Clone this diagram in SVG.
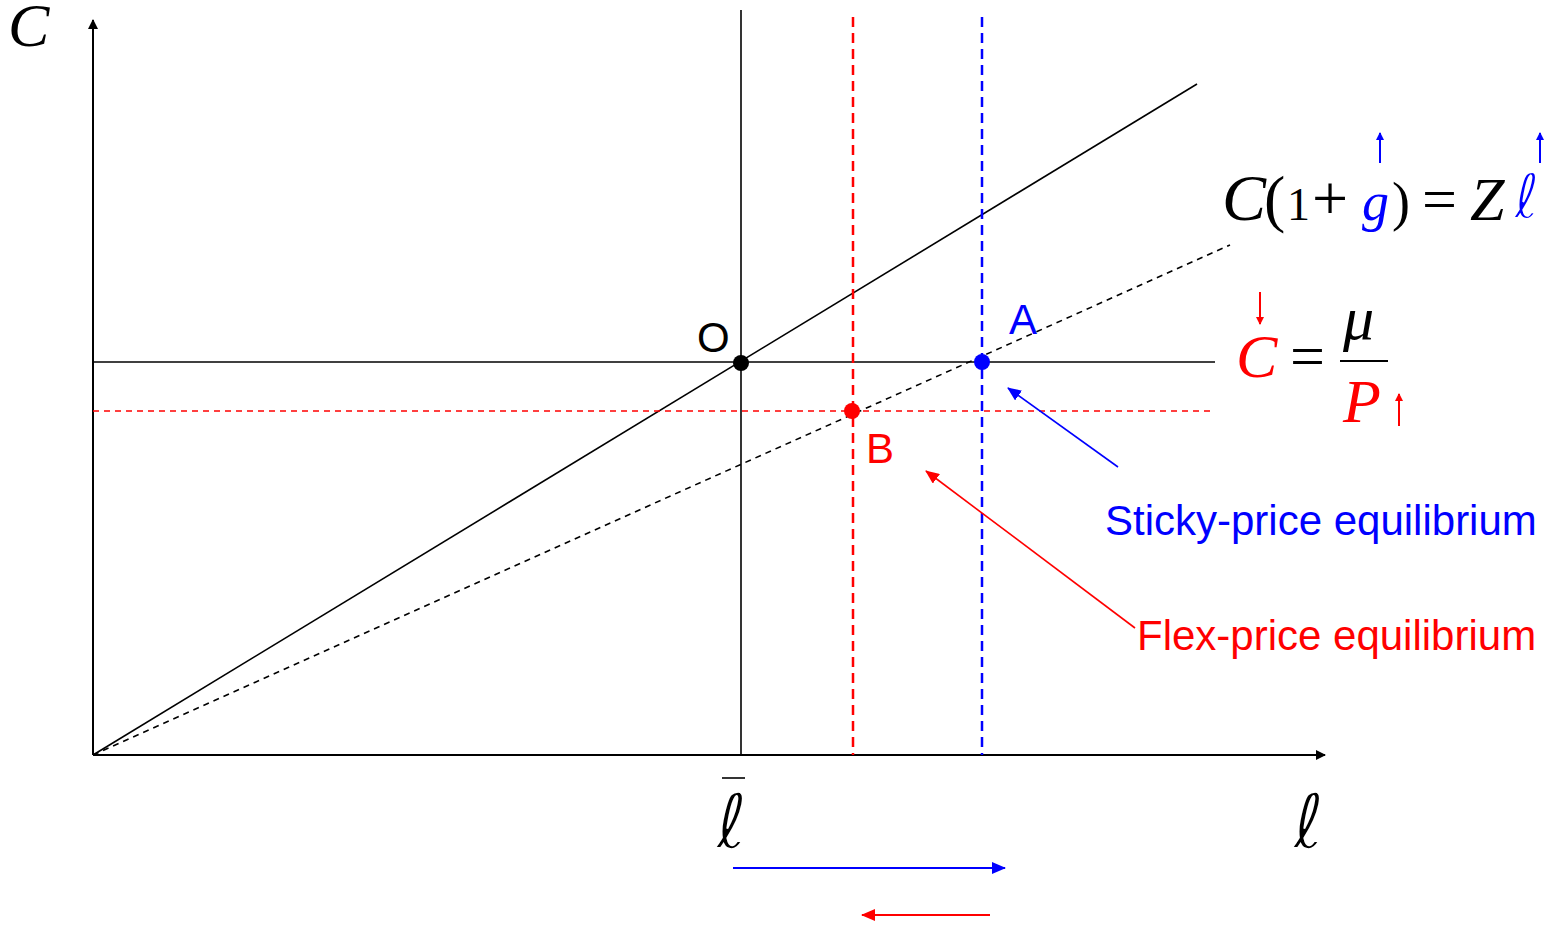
<svg xmlns="http://www.w3.org/2000/svg" width="1547" height="929" viewBox="0 0 1547 929">
<style>
.ax{stroke:#000;stroke-width:2;fill:none}
.sl{stroke:#000;stroke-width:1.6;fill:none}
.dk{stroke:#000;stroke-width:1.6;fill:none;stroke-dasharray:6,5}
.rd{stroke:#f00;stroke-width:2.5;fill:none;stroke-dasharray:10,6}
.rdt{stroke:#f00;stroke-width:1.6;fill:none;stroke-dasharray:6,5}
.bd{stroke:#00f;stroke-width:2.5;fill:none;stroke-dasharray:10,6}
.sans{font-family:"Liberation Sans",Arial,sans-serif;font-size:42px}
.math{font-family:"Liberation Serif","Times New Roman",serif;font-size:62px}
.it{font-style:italic}
.ell{font-family:"DejaVu Sans",sans-serif;stroke:#fff;stroke-width:1.8px}
</style>
<defs>
<marker id="ak" markerWidth="10" markerHeight="10" refX="9" refY="5" orient="auto" markerUnits="userSpaceOnUse" viewBox="0 0 10 10"><path d="M0,0 L10,5 L0,10 z" fill="#000"/></marker>
<marker id="ab" markerWidth="14" markerHeight="12" refX="13" refY="6" orient="auto" markerUnits="userSpaceOnUse" viewBox="0 0 14 12"><path d="M0,0 L14,6 L0,12 z" fill="#00f"/></marker>
<marker id="ar" markerWidth="14" markerHeight="12" refX="13" refY="6" orient="auto" markerUnits="userSpaceOnUse" viewBox="0 0 14 12"><path d="M0,0 L14,6 L0,12 z" fill="#f00"/></marker>
<marker id="sb" markerWidth="8" markerHeight="10" refX="7" refY="4" orient="auto" markerUnits="userSpaceOnUse" viewBox="0 0 8 8"><path d="M0,0 L8,4 L0,8 z" fill="#00f"/></marker>
<marker id="sr" markerWidth="8" markerHeight="10" refX="7" refY="4" orient="auto" markerUnits="userSpaceOnUse" viewBox="0 0 8 8"><path d="M0,0 L8,4 L0,8 z" fill="#f00"/></marker>
</defs>
<g id="connectors">
<line class="ax" x1="93" y1="755" x2="93" y2="20" marker-end="url(#ak)"/>
<line class="ax" x1="93" y1="755" x2="1325" y2="755" marker-end="url(#ak)"/>
<line class="sl" x1="741" y1="10" x2="741" y2="755"/>
<line class="sl" x1="93" y1="362" x2="1215" y2="362"/>
<line class="sl" x1="93" y1="755" x2="1197" y2="84"/>
<line class="dk" x1="93" y1="755" x2="1230" y2="245"/>
<line class="rdt" x1="93" y1="411" x2="1213" y2="411"/>
<line class="rd" x1="853" y1="17" x2="853" y2="755"/>
<line class="bd" x1="982" y1="17" x2="982" y2="755"/>
<line x1="1118" y1="467" x2="1008" y2="388" stroke="#00f" stroke-width="1.6" marker-end="url(#ab)"/>
<line x1="1135" y1="628" x2="926" y2="471" stroke="#f00" stroke-width="1.6" marker-end="url(#ar)"/>
<line x1="733" y1="868" x2="1005" y2="868" stroke="#00f" stroke-width="2" marker-end="url(#ab)"/>
<line x1="990" y1="915" x2="862" y2="915" stroke="#f00" stroke-width="2" marker-end="url(#ar)"/>
</g>
<g id="node-O"><circle cx="741" cy="363" r="8" fill="#000"/><text class="sans" x="697" y="352">O</text></g>
<g id="node-A"><circle cx="982" cy="362" r="8" fill="#00f"/><text class="sans" x="1009" y="334" fill="#00f">A</text></g>
<g id="node-B"><circle cx="852" cy="411" r="8" fill="#f00"/><text class="sans" x="866" y="463" fill="#f00">B</text></g>
<g id="label-sticky"><text class="sans" x="1105" y="535" fill="#00f">Sticky-price equilibrium</text></g>
<g id="label-flex"><text class="sans" x="1137" y="650" fill="#f00">Flex-price equilibrium</text></g>
<g id="axis-labels">
<text class="math it" x="8" y="46" font-size="48">C</text>
<text class="ell" x="716" y="848" font-size="76">ℓ</text>
<line x1="722" y1="778" x2="745" y2="778" stroke="#000" stroke-width="1.6"/>
<text class="ell" x="1293" y="848" font-size="76">ℓ</text>
</g>
<g id="eq1">
<text class="math" y="220"><tspan class="it" x="1222" font-size="66">C</tspan><tspan x="1264" font-size="64">(</tspan><tspan x="1287" font-size="46">1</tspan><tspan x="1312" font-size="64">+</tspan><tspan class="it" x="1362" font-size="54" fill="#00f">g</tspan><tspan x="1392" font-size="54">)</tspan><tspan x="1422" font-size="62">=</tspan><tspan class="it" x="1470" font-size="62">Z</tspan></text>
<text class="ell" x="1514" y="218" font-size="62" fill="#00f">ℓ</text>
<line x1="1380" y1="163" x2="1380" y2="133" stroke="#00f" stroke-width="2" marker-end="url(#sb)"/>
<line x1="1540" y1="163" x2="1540" y2="133" stroke="#00f" stroke-width="2" marker-end="url(#sb)"/>
</g>
<g id="eq2">
<text class="math it" x="1236" y="377" fill="#f00">C</text>
<text class="math" x="1290" y="377" font-size="56">=</text>
<text class="math it" x="1343" y="339" font-size="60">μ</text>
<line x1="1340" y1="361" x2="1388" y2="361" stroke="#000" stroke-width="2"/>
<text class="math it" x="1343" y="422" font-size="58" fill="#f00">P</text>
<line x1="1260" y1="292" x2="1260" y2="324" stroke="#f00" stroke-width="2" marker-end="url(#sr)"/>
<line x1="1399" y1="426" x2="1399" y2="394" stroke="#f00" stroke-width="2" marker-end="url(#sr)"/>
</g>
</svg>
